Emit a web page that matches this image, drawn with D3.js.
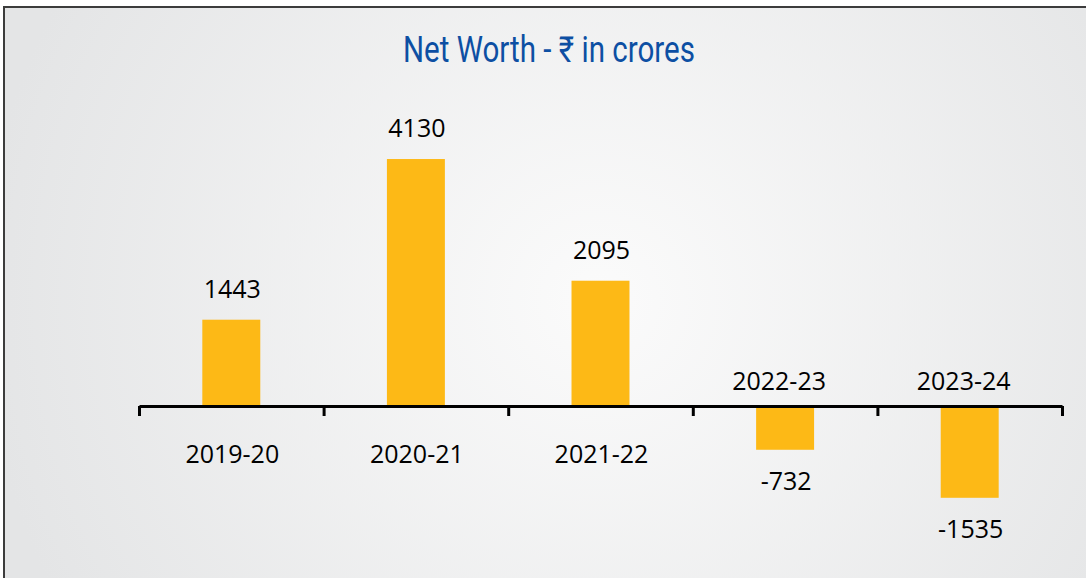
<!DOCTYPE html>
<html>
<head>
<meta charset="utf-8">
<script src="https://cdn.jsdelivr.net/npm/d3@7"></script>
<style>
  html, body { margin: 0; padding: 0; background: #fff; }
  svg { display: block; }
</style>
</head>
<body>
<div id="chart"></div>
<script>
const years = ['2019-20', '2020-21', '2021-22', '2022-23', '2023-24']
const netWorth = [1443, 4130, 2095, -732, -1535]
const title = 'Net Worth - \u20b9 in crores'

const width = 1086
const height = 578

const svg = d3.select('#chart')
  .append('svg')
  .attr('width', width)
  .attr('height', height)

const defs = svg.append('defs')
const grad = defs.append('radialGradient')
  .attr('id', 'bg')
  .attr('gradientUnits', 'userSpaceOnUse')
  .attr('cx', 600).attr('cy', 300).attr('r', 620)
grad.append('stop').attr('offset', '0%').attr('stop-color', '#fbfbfb')
grad.append('stop').attr('offset', '100%').attr('stop-color', '#e4e5e6')

// frame, runs off the right and bottom edges
svg.append('rect')
  .attr('x', 4).attr('y', 7)
  .attr('width', width + 20).attr('height', height + 20)
  .attr('fill', 'url(#bg)')
  .attr('stroke', '#3c3c3c')
  .attr('stroke-width', 2)

svg.append('text')
  .attr('x', 549).attr('y', 62)
  .attr('text-anchor', 'middle')
  .attr('font-family', 'Roboto, "Noto Sans", sans-serif')
  .attr('font-size', 36)
  .attr('fill', '#0d4fa3')
  .attr('textLength', 292)
  .attr('lengthAdjust', 'spacingAndGlyphs')
  .text(title)

const x = d3.scaleBand()
  .domain(years)
  .range([139, 1062])
  .paddingInner(0.686)
  .paddingOuter(0.343)

const y = d3.scaleLinear()
  .domain([-2000, 5000])
  .range([525.6, 107])

svg.selectAll('rect.bar')
  .data(netWorth)
  .enter()
  .append('rect')
  .attr('class', 'bar')
  .attr('x', (d, i) => x(years[i]))
  .attr('width', x.bandwidth())
  .attr('y', d => Math.min(y(d), y(0)))
  .attr('height', d => Math.abs(y(d) - y(0)))
  .attr('fill', '#fdb916')

// axis with ticks at the category boundaries
const edges = d3.scaleLinear().domain([0, years.length]).range([139, 1062])
const xAxis = d3.axisBottom(edges)
  .tickValues(d3.range(years.length + 1))
  .tickFormat('')
  .tickSizeInner(10)
  .tickSizeOuter(0)

const axisG = svg.append('g')
  .attr('transform', `translate(0, ${y(0)})`)
  .call(xAxis)
axisG.select('.domain').attr('stroke', '#000').attr('stroke-width', 3)
axisG.selectAll('.tick line').attr('stroke', '#000').attr('stroke-width', 3)

const labelFont = '"Open Sans", "Noto Sans", sans-serif'

svg.selectAll('text.cat')
  .data(years)
  .enter()
  .append('text')
  .attr('class', 'cat')
  .attr('x', (d, i) => x(d) + x.bandwidth() / 2 + (netWorth[i] < 0 ? -6 : 1))
  .attr('y', (d, i) => netWorth[i] < 0 ? y(0) - 16 : y(0) + 57)
  .attr('text-anchor', 'middle')
  .attr('font-family', labelFont)
  .attr('font-size', 25)
  .attr('fill', '#000')
  .text(d => d)

svg.selectAll('text.val')
  .data(netWorth)
  .enter()
  .append('text')
  .attr('class', 'val')
  .attr('x', (d, i) => x(years[i]) + x.bandwidth() / 2 + 1)
  .attr('y', d => d < 0 ? y(d) + 40 : y(d) - 22)
  .attr('text-anchor', 'middle')
  .attr('font-family', labelFont)
  .attr('font-size', 25)
  .attr('fill', '#000')
  .text(d => d)
</script>
</body>
</html>
